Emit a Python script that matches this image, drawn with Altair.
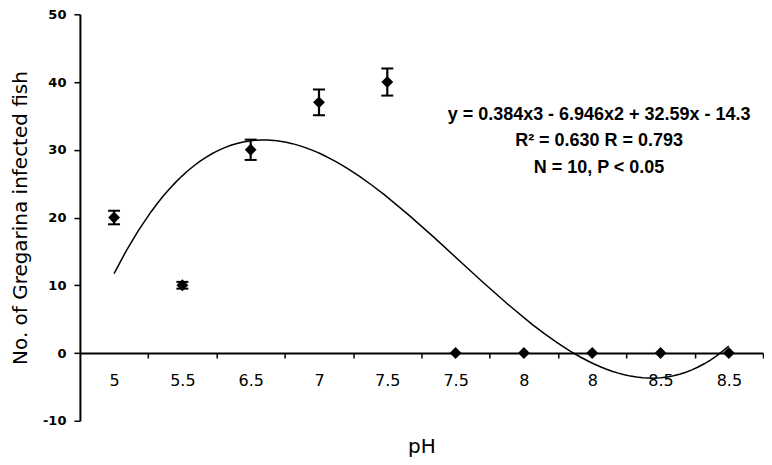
import json
import altair as alt
import pandas as pd

# ---- data ----
ph_labels = ["5", "5.5", "6.5", "7", "7.5", "7.5", "8", "8", "8.5", "8.5"]
infected = [20, 10, 30, 37, 40, 0, 0, 0, 0, 0]
errors = [1.0, 0.5, 1.5, 1.9, 2.0, 0, 0, 0, 0, 0]
equation_lines = [
    "y = 0.384x3 - 6.946x2 + 32.59x - 14.3",
    "R\u00b2 = 0.630 R = 0.793",
    "N = 10, P < 0.05",
]
y_ticks = [-10, 0, 10, 20, 30, 40, 50]

idx = list(range(1, len(ph_labels) + 1))
df = pd.DataFrame({"idx": idx, "label": ph_labels, "count": infected, "err": errors})
df["lo"] = df["count"] - df["err"]
df["hi"] = df["count"] + df["err"]

W, H = 684, 407
ymin, ymax = -10, 50
half_band = W / len(ph_labels) / 2

x_scale = alt.Scale(domain=[0.5, len(ph_labels) + 0.5], nice=False, zero=False)
y_scale = alt.Scale(domain=[ymin, ymax], nice=False, zero=False)

label_expr = json.dumps(ph_labels) + "[datum.value - 1]"

x_axis = alt.Axis(
    values=idx, labelExpr=label_expr, title="pH",
    offset=-H * (0 - ymin) / (ymax - ymin),
    tickOffset=half_band, labelOffset=-half_band,
    tickSize=5, tickWidth=1.5, domainWidth=2,
    labelFont="DejaVu Sans", labelFontSize=16, labelPadding=15,
    titleFont="DejaVu Sans", titleFontSize=20, titleFontWeight="normal",
    titlePadding=48, grid=False, labelFlush=False,
)
y_axis = alt.Axis(
    values=y_ticks, title="No. of Gregarina infected fish",
    labelExpr="datum.value < 0 ? '-' + abs(datum.value) : '' + datum.value",
    tickSize=6, tickWidth=1.5, domainWidth=2,
    labelFont="DejaVu Sans", labelFontSize=13, labelFontWeight="bold", labelPadding=8,
    titleFont="DejaVu Sans", titleFontSize=20, titleFontWeight="normal",
    titlePadding=12, grid=False,
)


def X(field):
    return alt.X(field, type="quantitative", scale=x_scale, axis=x_axis)


def Y(field):
    return alt.Y(field, type="quantitative", scale=y_scale, axis=y_axis)


base = alt.Chart(df)

trend = base.transform_regression(
    "idx", "count", method="poly", order=3
).mark_line(color="black", strokeWidth=1.5).encode(x=X("idx"), y=Y("count"))

bars = base.transform_filter("datum.err > 0").mark_rule(
    color="black", strokeWidth=2.2
).encode(x=X("idx"), y=Y("lo"), y2="hi:Q")

cap_lo = base.transform_filter("datum.err > 0").mark_tick(
    orient="horizontal", size=12, thickness=2, color="black", opacity=1
).encode(x=X("idx"), y=Y("lo"))

cap_hi = base.transform_filter("datum.err > 0").mark_tick(
    orient="horizontal", size=12, thickness=2, color="black", opacity=1
).encode(x=X("idx"), y=Y("hi"))

points = base.mark_point(
    shape="diamond", filled=True, size=140, color="black", opacity=1
).encode(x=X("idx"), y=Y("count"))

note = alt.Chart(pd.DataFrame({"k": [0]})).mark_text(
    text=equation_lines, font="Liberation Sans", fontSize=18, fontWeight="bold",
    lineHeight=27, align="center", baseline="middle", color="black",
).encode(
    x=alt.X(datum=8.1, type="quantitative", scale=x_scale, axis=x_axis),
    y=alt.Y(datum=35.2, type="quantitative", scale=y_scale, axis=y_axis),
)

chart = alt.layer(trend, bars, cap_lo, cap_hi, points, note).properties(
    width=W, height=H, background="white",
    padding={"left": 2, "top": 0, "right": 0, "bottom": 0},
).configure_view(stroke=None).configure_axis(
    domainColor="black", tickColor="black", labelColor="black", titleColor="black"
)

chart.save("out.html", embed_options={"renderer": "svg", "actions": False})
